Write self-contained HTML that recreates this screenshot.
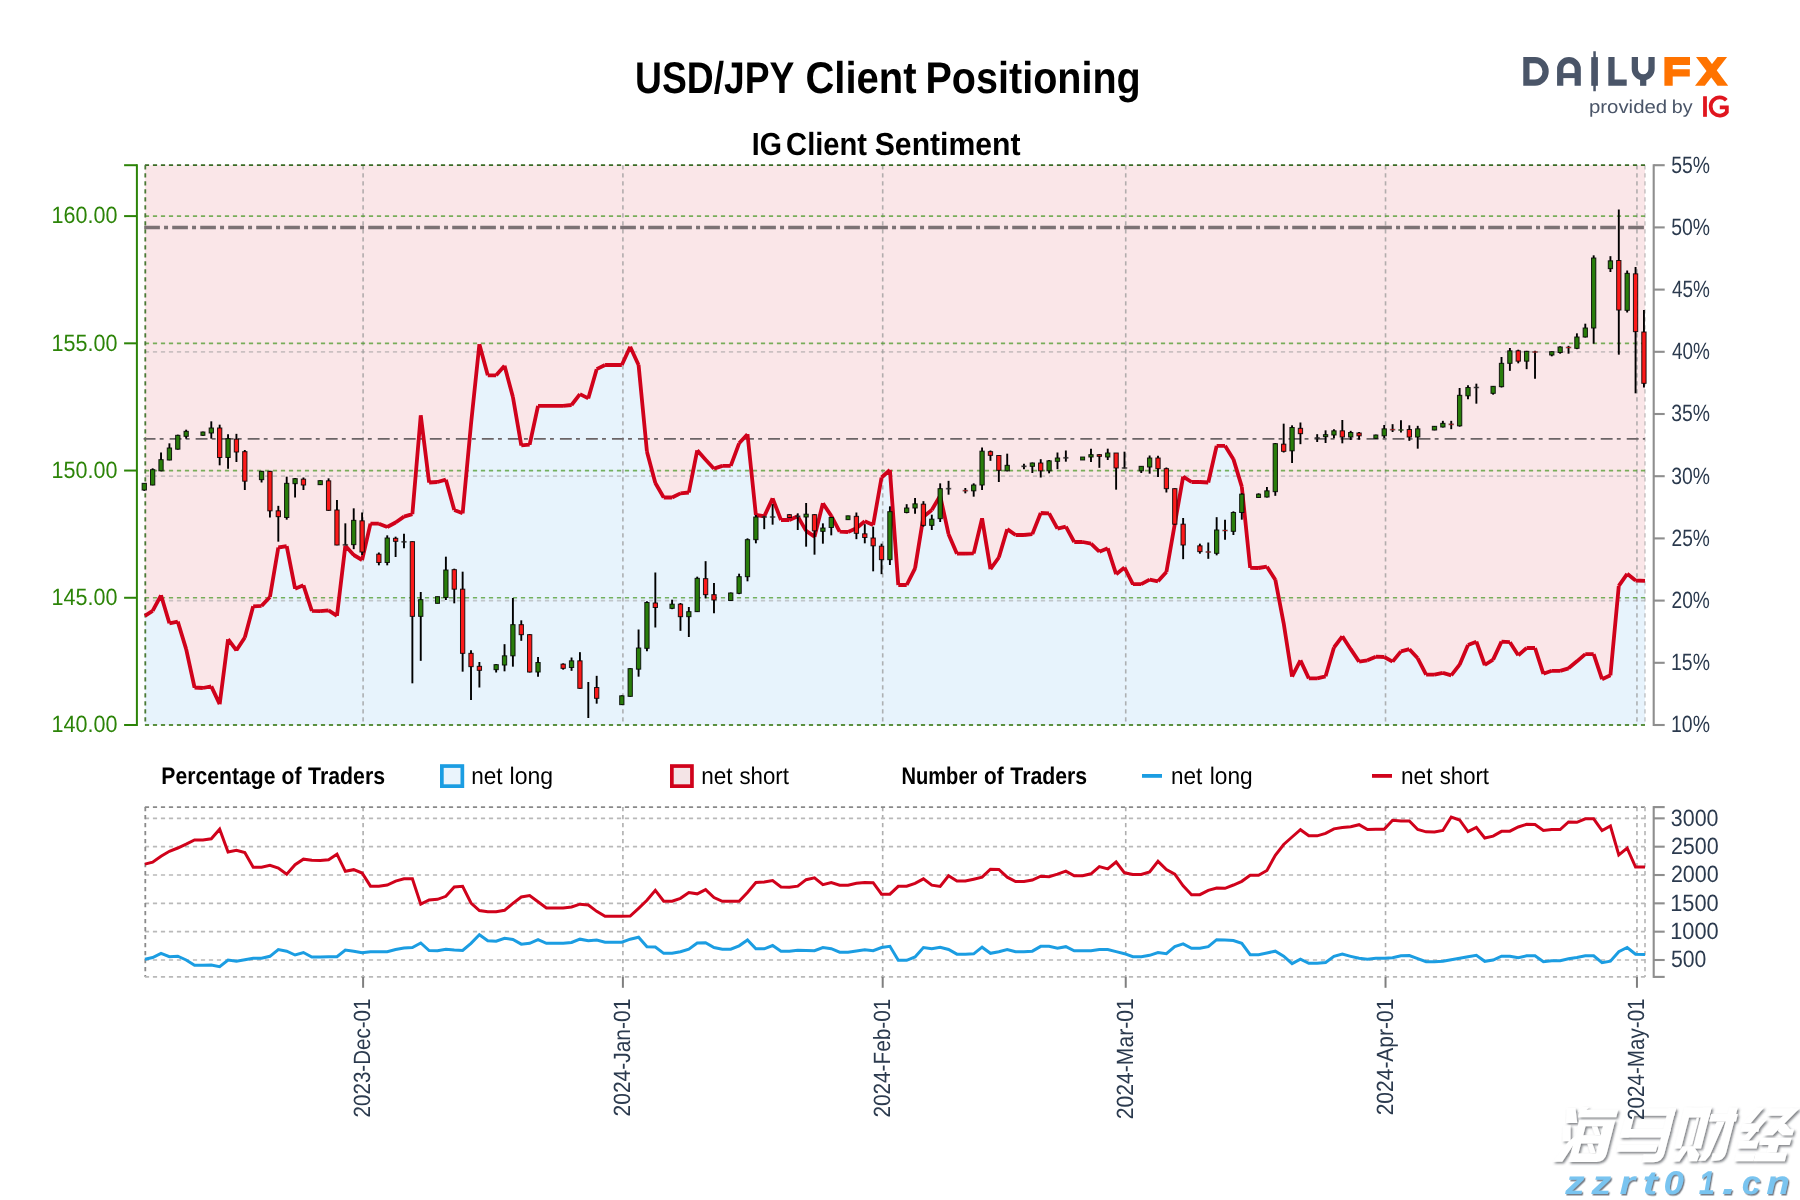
<!DOCTYPE html>
<html><head><meta charset="utf-8"><title>USD/JPY Client Positioning</title>
<style>html,body{margin:0;padding:0;background:#fff;}body{width:1800px;height:1200px;overflow:hidden;}svg{display:block;opacity:0.9999;}text{text-rendering:geometricPrecision;font-family:"Liberation Sans",sans-serif;}</style></head><body>
<svg width="1800" height="1200" viewBox="0 0 1800 1200">
<rect width="1800" height="1200" fill="#fff"/>
<polygon fill="#fae6e8" points="144.9,615.83 152.65,610.83 161.03,595.33 169.41,623.33 177.78,621.67 186.16,649.17 194.54,687.5 202.92,688 211.3,686.33 219.67,704.17 228.05,639.17 236.43,650.33 244.81,637.5 253.19,606.33 261.56,605.83 269.94,597 278.32,547.5 286.7,546.17 295.08,588.67 303.45,585.33 311.83,610.83 320.21,611.17 328.59,610.33 336.97,615.83 345.34,545.83 353.72,555 362.1,560 370.48,523.67 378.86,523.67 387.23,527 395.61,522.5 403.99,516.67 412.37,514.17 420.75,415.33 429.12,482.5 437.5,482 445.88,479.67 454.26,510 462.64,513.33 471.01,424.17 479.39,344.17 487.77,375.33 496.15,375.33 504.53,365.83 512.9,397 521.28,445.33 529.66,444.67 538.04,405.83 546.42,405.83 554.79,405.83 563.17,405.83 571.55,405 579.93,394.17 588.31,398.33 596.68,369.17 605.06,365 613.44,365 621.82,365 630.2,346.67 638.57,365 646.95,451.67 655.33,483 663.71,497.5 672.09,497.5 680.46,493.33 688.84,492.5 697.22,450.33 705.6,459.67 713.98,468.67 722.35,465.83 730.73,465.83 739.11,443.33 747.49,434.17 755.87,515 764.24,516.33 772.62,498.33 781,520 789.38,520 797.76,516.33 806.13,530.83 814.51,536.67 822.89,503.33 831.27,515.83 839.65,531.67 848.02,532 856.4,528.33 864.78,521.33 873.16,525 881.54,477.5 889.91,470 898.29,585 906.67,585 915.05,568.33 923.43,516.67 931.8,510 940.18,495.83 948.56,534.17 956.94,553.67 965.32,553.67 973.69,553.33 982.07,518.33 990.45,569.17 998.83,557.5 1007.21,529.17 1015.58,535 1023.96,535 1032.34,534.17 1040.72,513 1049.1,513.33 1057.47,528.67 1065.85,526.67 1074.23,542 1082.61,542 1090.99,543.67 1099.36,551.67 1107.74,548.33 1116.12,574.17 1124.5,567.5 1132.88,584.17 1141.25,584.17 1149.63,579.67 1158.01,581.33 1166.39,572 1174.77,524.17 1183.14,476.67 1191.52,482 1199.9,482 1208.28,482.5 1216.66,445.83 1225.03,445.83 1233.41,459.17 1241.79,486.67 1250.17,567.83 1258.55,568 1266.92,566.67 1275.3,579.67 1283.68,623.33 1292.06,676.67 1300.44,660.33 1308.81,678.33 1317.19,678.33 1325.57,676.33 1333.95,647.5 1342.33,636.33 1350.7,649.17 1359.08,661.67 1367.46,660.33 1375.84,656.67 1384.22,657 1392.59,661.67 1400.97,651.33 1409.35,649.17 1417.73,658.33 1426.11,674.67 1434.48,674.67 1442.86,672.83 1451.24,675.33 1459.62,664.67 1468,645 1476.37,641.67 1484.75,665 1493.13,659.67 1501.51,641.67 1509.89,642.17 1518.26,655.33 1526.64,648 1535.02,648 1543.4,673.83 1551.78,670.83 1560.15,670.83 1568.53,668.33 1576.91,661.33 1585.29,654.17 1593.67,654.17 1602.04,679.17 1610.42,675.33 1618.8,585.83 1627.18,573.83 1635.56,580.5 1645,580.83 1645,165.2 144.9,165.2"/>
<polygon fill="#e7f3fc" points="144.9,615.83 152.65,610.83 161.03,595.33 169.41,623.33 177.78,621.67 186.16,649.17 194.54,687.5 202.92,688 211.3,686.33 219.67,704.17 228.05,639.17 236.43,650.33 244.81,637.5 253.19,606.33 261.56,605.83 269.94,597 278.32,547.5 286.7,546.17 295.08,588.67 303.45,585.33 311.83,610.83 320.21,611.17 328.59,610.33 336.97,615.83 345.34,545.83 353.72,555 362.1,560 370.48,523.67 378.86,523.67 387.23,527 395.61,522.5 403.99,516.67 412.37,514.17 420.75,415.33 429.12,482.5 437.5,482 445.88,479.67 454.26,510 462.64,513.33 471.01,424.17 479.39,344.17 487.77,375.33 496.15,375.33 504.53,365.83 512.9,397 521.28,445.33 529.66,444.67 538.04,405.83 546.42,405.83 554.79,405.83 563.17,405.83 571.55,405 579.93,394.17 588.31,398.33 596.68,369.17 605.06,365 613.44,365 621.82,365 630.2,346.67 638.57,365 646.95,451.67 655.33,483 663.71,497.5 672.09,497.5 680.46,493.33 688.84,492.5 697.22,450.33 705.6,459.67 713.98,468.67 722.35,465.83 730.73,465.83 739.11,443.33 747.49,434.17 755.87,515 764.24,516.33 772.62,498.33 781,520 789.38,520 797.76,516.33 806.13,530.83 814.51,536.67 822.89,503.33 831.27,515.83 839.65,531.67 848.02,532 856.4,528.33 864.78,521.33 873.16,525 881.54,477.5 889.91,470 898.29,585 906.67,585 915.05,568.33 923.43,516.67 931.8,510 940.18,495.83 948.56,534.17 956.94,553.67 965.32,553.67 973.69,553.33 982.07,518.33 990.45,569.17 998.83,557.5 1007.21,529.17 1015.58,535 1023.96,535 1032.34,534.17 1040.72,513 1049.1,513.33 1057.47,528.67 1065.85,526.67 1074.23,542 1082.61,542 1090.99,543.67 1099.36,551.67 1107.74,548.33 1116.12,574.17 1124.5,567.5 1132.88,584.17 1141.25,584.17 1149.63,579.67 1158.01,581.33 1166.39,572 1174.77,524.17 1183.14,476.67 1191.52,482 1199.9,482 1208.28,482.5 1216.66,445.83 1225.03,445.83 1233.41,459.17 1241.79,486.67 1250.17,567.83 1258.55,568 1266.92,566.67 1275.3,579.67 1283.68,623.33 1292.06,676.67 1300.44,660.33 1308.81,678.33 1317.19,678.33 1325.57,676.33 1333.95,647.5 1342.33,636.33 1350.7,649.17 1359.08,661.67 1367.46,660.33 1375.84,656.67 1384.22,657 1392.59,661.67 1400.97,651.33 1409.35,649.17 1417.73,658.33 1426.11,674.67 1434.48,674.67 1442.86,672.83 1451.24,675.33 1459.62,664.67 1468,645 1476.37,641.67 1484.75,665 1493.13,659.67 1501.51,641.67 1509.89,642.17 1518.26,655.33 1526.64,648 1535.02,648 1543.4,673.83 1551.78,670.83 1560.15,670.83 1568.53,668.33 1576.91,661.33 1585.29,654.17 1593.67,654.17 1602.04,679.17 1610.42,675.33 1618.8,585.83 1627.18,573.83 1635.56,580.5 1645,580.83 1645,725 144.9,725"/>
<line x1="363.1" y1="165.2" x2="363.1" y2="725" stroke="#9a9a9a" stroke-opacity="0.75" stroke-width="1.6" stroke-dasharray="4.2 3.8"/>
<line x1="622.9" y1="165.2" x2="622.9" y2="725" stroke="#9a9a9a" stroke-opacity="0.75" stroke-width="1.6" stroke-dasharray="4.2 3.8"/>
<line x1="882.7" y1="165.2" x2="882.7" y2="725" stroke="#9a9a9a" stroke-opacity="0.75" stroke-width="1.6" stroke-dasharray="4.2 3.8"/>
<line x1="1125.73" y1="165.2" x2="1125.73" y2="725" stroke="#9a9a9a" stroke-opacity="0.75" stroke-width="1.6" stroke-dasharray="4.2 3.8"/>
<line x1="1385.53" y1="165.2" x2="1385.53" y2="725" stroke="#9a9a9a" stroke-opacity="0.75" stroke-width="1.6" stroke-dasharray="4.2 3.8"/>
<line x1="1636.95" y1="165.2" x2="1636.95" y2="725" stroke="#9a9a9a" stroke-opacity="0.75" stroke-width="1.6" stroke-dasharray="4.2 3.8"/>
<line x1="1645" y1="165.2" x2="1645" y2="725" stroke="#9a9a9a" stroke-opacity="0.5" stroke-width="1.6" stroke-dasharray="4.2 3.8"/>
<line x1="144.9" y1="600.6" x2="1645" y2="600.6" stroke="#9a9a9a" stroke-opacity="0.5" stroke-width="1.7" stroke-dasharray="4.2 3.8"/>
<line x1="144.9" y1="476.2" x2="1645" y2="476.2" stroke="#9a9a9a" stroke-opacity="0.5" stroke-width="1.7" stroke-dasharray="4.2 3.8"/>
<line x1="144.9" y1="351.8" x2="1645" y2="351.8" stroke="#9a9a9a" stroke-opacity="0.5" stroke-width="1.7" stroke-dasharray="4.2 3.8"/>
<line x1="144.9" y1="597.77" x2="1645" y2="597.77" stroke="#4c9a2a" stroke-opacity="0.75" stroke-width="1.7" stroke-dasharray="4.2 3.8"/>
<line x1="144.9" y1="470.55" x2="1645" y2="470.55" stroke="#4c9a2a" stroke-opacity="0.75" stroke-width="1.7" stroke-dasharray="4.2 3.8"/>
<line x1="144.9" y1="343.32" x2="1645" y2="343.32" stroke="#4c9a2a" stroke-opacity="0.75" stroke-width="1.7" stroke-dasharray="4.2 3.8"/>
<line x1="144.9" y1="216.1" x2="1645" y2="216.1" stroke="#4c9a2a" stroke-opacity="0.75" stroke-width="1.7" stroke-dasharray="4.2 3.8"/>
<line x1="144.9" y1="165.2" x2="1645" y2="165.2" stroke="#3a6b25" stroke-width="1.8" stroke-dasharray="4.2 3.8"/>
<line x1="145.3" y1="165.2" x2="145.3" y2="725" stroke="#4a7a35" stroke-width="1.8" stroke-dasharray="4.2 3.8"/>
<line x1="144.9" y1="725" x2="1645" y2="725" stroke="#5a9040" stroke-width="1.8" stroke-dasharray="4.2 3.8"/>
<line x1="144.2" y1="227.4" x2="1645" y2="227.4" stroke="#7b7274" stroke-width="3.5" stroke-dasharray="15.7 4.15 4 4.15"/>
<line x1="143.6" y1="438.9" x2="1645" y2="438.9" stroke="#6b6466" stroke-width="1.7" stroke-dasharray="11.9 4.2 3.9 6.02"/>
<path fill="none" stroke="#d0021b" stroke-width="3.8" stroke-linecap="butt" d="M144.9,615.83 L152.65,610.83 M152.65,610.83 L161.03,595.33 M161.03,595.33 L169.41,623.33 M169.41,623.33 L177.78,621.67 M177.78,621.67 L186.16,649.17 M186.16,649.17 L194.54,687.5 M194.54,687.5 L202.92,688 M202.92,688 L211.3,686.33 M211.3,686.33 L219.67,704.17 M219.67,704.17 L228.05,639.17 M228.05,639.17 L236.43,650.33 M236.43,650.33 L244.81,637.5 M244.81,637.5 L253.19,606.33 M253.19,606.33 L261.56,605.83 M261.56,605.83 L269.94,597 M269.94,597 L278.32,547.5 M278.32,547.5 L286.7,546.17 M286.7,546.17 L295.08,588.67 M295.08,588.67 L303.45,585.33 M303.45,585.33 L311.83,610.83 M311.83,610.83 L320.21,611.17 M320.21,611.17 L328.59,610.33 M328.59,610.33 L336.97,615.83 M336.97,615.83 L345.34,545.83 M345.34,545.83 L353.72,555 M353.72,555 L362.1,560 M362.1,560 L370.48,523.67 M370.48,523.67 L378.86,523.67 M378.86,523.67 L387.23,527 M387.23,527 L395.61,522.5 M395.61,522.5 L403.99,516.67 M403.99,516.67 L412.37,514.17 M412.37,514.17 L420.75,415.33 M420.75,415.33 L429.12,482.5 M429.12,482.5 L437.5,482 M437.5,482 L445.88,479.67 M445.88,479.67 L454.26,510 M454.26,510 L462.64,513.33 M462.64,513.33 L471.01,424.17 M471.01,424.17 L479.39,344.17 M479.39,344.17 L487.77,375.33 M487.77,375.33 L496.15,375.33 M496.15,375.33 L504.53,365.83 M504.53,365.83 L512.9,397 M512.9,397 L521.28,445.33 M521.28,445.33 L529.66,444.67 M529.66,444.67 L538.04,405.83 M538.04,405.83 L546.42,405.83 M546.42,405.83 L554.79,405.83 M554.79,405.83 L563.17,405.83 M563.17,405.83 L571.55,405 M571.55,405 L579.93,394.17 M579.93,394.17 L588.31,398.33 M588.31,398.33 L596.68,369.17 M596.68,369.17 L605.06,365 M605.06,365 L613.44,365 M613.44,365 L621.82,365 M621.82,365 L630.2,346.67 M630.2,346.67 L638.57,365 M638.57,365 L646.95,451.67 M646.95,451.67 L655.33,483 M655.33,483 L663.71,497.5 M663.71,497.5 L672.09,497.5 M672.09,497.5 L680.46,493.33 M680.46,493.33 L688.84,492.5 M688.84,492.5 L697.22,450.33 M697.22,450.33 L705.6,459.67 M705.6,459.67 L713.98,468.67 M713.98,468.67 L722.35,465.83 M722.35,465.83 L730.73,465.83 M730.73,465.83 L739.11,443.33 M739.11,443.33 L747.49,434.17 M747.49,434.17 L755.87,515 M755.87,515 L764.24,516.33 M764.24,516.33 L772.62,498.33 M772.62,498.33 L781,520 M781,520 L789.38,520 M789.38,520 L797.76,516.33 M797.76,516.33 L806.13,530.83 M806.13,530.83 L814.51,536.67 M814.51,536.67 L822.89,503.33 M822.89,503.33 L831.27,515.83 M831.27,515.83 L839.65,531.67 M839.65,531.67 L848.02,532 M848.02,532 L856.4,528.33 M856.4,528.33 L864.78,521.33 M864.78,521.33 L873.16,525 M873.16,525 L881.54,477.5 M881.54,477.5 L889.91,470 M889.91,470 L898.29,585 M898.29,585 L906.67,585 M906.67,585 L915.05,568.33 M915.05,568.33 L923.43,516.67 M923.43,516.67 L931.8,510 M931.8,510 L940.18,495.83 M940.18,495.83 L948.56,534.17 M948.56,534.17 L956.94,553.67 M956.94,553.67 L965.32,553.67 M965.32,553.67 L973.69,553.33 M973.69,553.33 L982.07,518.33 M982.07,518.33 L990.45,569.17 M990.45,569.17 L998.83,557.5 M998.83,557.5 L1007.21,529.17 M1007.21,529.17 L1015.58,535 M1015.58,535 L1023.96,535 M1023.96,535 L1032.34,534.17 M1032.34,534.17 L1040.72,513 M1040.72,513 L1049.1,513.33 M1049.1,513.33 L1057.47,528.67 M1057.47,528.67 L1065.85,526.67 M1065.85,526.67 L1074.23,542 M1074.23,542 L1082.61,542 M1082.61,542 L1090.99,543.67 M1090.99,543.67 L1099.36,551.67 M1099.36,551.67 L1107.74,548.33 M1107.74,548.33 L1116.12,574.17 M1116.12,574.17 L1124.5,567.5 M1124.5,567.5 L1132.88,584.17 M1132.88,584.17 L1141.25,584.17 M1141.25,584.17 L1149.63,579.67 M1149.63,579.67 L1158.01,581.33 M1158.01,581.33 L1166.39,572 M1166.39,572 L1174.77,524.17 M1174.77,524.17 L1183.14,476.67 M1183.14,476.67 L1191.52,482 M1191.52,482 L1199.9,482 M1199.9,482 L1208.28,482.5 M1208.28,482.5 L1216.66,445.83 M1216.66,445.83 L1225.03,445.83 M1225.03,445.83 L1233.41,459.17 M1233.41,459.17 L1241.79,486.67 M1241.79,486.67 L1250.17,567.83 M1250.17,567.83 L1258.55,568 M1258.55,568 L1266.92,566.67 M1266.92,566.67 L1275.3,579.67 M1275.3,579.67 L1283.68,623.33 M1283.68,623.33 L1292.06,676.67 M1292.06,676.67 L1300.44,660.33 M1300.44,660.33 L1308.81,678.33 M1308.81,678.33 L1317.19,678.33 M1317.19,678.33 L1325.57,676.33 M1325.57,676.33 L1333.95,647.5 M1333.95,647.5 L1342.33,636.33 M1342.33,636.33 L1350.7,649.17 M1350.7,649.17 L1359.08,661.67 M1359.08,661.67 L1367.46,660.33 M1367.46,660.33 L1375.84,656.67 M1375.84,656.67 L1384.22,657 M1384.22,657 L1392.59,661.67 M1392.59,661.67 L1400.97,651.33 M1400.97,651.33 L1409.35,649.17 M1409.35,649.17 L1417.73,658.33 M1417.73,658.33 L1426.11,674.67 M1426.11,674.67 L1434.48,674.67 M1434.48,674.67 L1442.86,672.83 M1442.86,672.83 L1451.24,675.33 M1451.24,675.33 L1459.62,664.67 M1459.62,664.67 L1468,645 M1468,645 L1476.37,641.67 M1476.37,641.67 L1484.75,665 M1484.75,665 L1493.13,659.67 M1493.13,659.67 L1501.51,641.67 M1501.51,641.67 L1509.89,642.17 M1509.89,642.17 L1518.26,655.33 M1518.26,655.33 L1526.64,648 M1526.64,648 L1535.02,648 M1535.02,648 L1543.4,673.83 M1543.4,673.83 L1551.78,670.83 M1551.78,670.83 L1560.15,670.83 M1560.15,670.83 L1568.53,668.33 M1568.53,668.33 L1576.91,661.33 M1576.91,661.33 L1585.29,654.17 M1585.29,654.17 L1593.67,654.17 M1593.67,654.17 L1602.04,679.17 M1602.04,679.17 L1610.42,675.33 M1610.42,675.33 L1618.8,585.83 M1618.8,585.83 L1627.18,573.83 M1627.18,573.83 L1635.56,580.5 M1635.56,580.5 L1645,580.83"/>
<g stroke="#000">
<line x1="144.27" y1="483.33" x2="144.27" y2="490.83" stroke-width="1.9"/>
<rect x="142.12" y="483.33" width="4.3" height="6.67" fill="#297d0b" stroke-width="1" stroke-opacity="0.85"/>
<line x1="152.65" y1="468.33" x2="152.65" y2="485.33" stroke-width="1.9"/>
<rect x="150.5" y="469.67" width="4.3" height="15.33" fill="#297d0b" stroke-width="1" stroke-opacity="0.85"/>
<line x1="161.03" y1="452.5" x2="161.03" y2="471.33" stroke-width="1.9"/>
<rect x="158.88" y="459.67" width="4.3" height="11.17" fill="#297d0b" stroke-width="1" stroke-opacity="0.85"/>
<line x1="169.41" y1="443.33" x2="169.41" y2="460.33" stroke-width="1.9"/>
<rect x="167.26" y="448" width="4.3" height="12" fill="#297d0b" stroke-width="1" stroke-opacity="0.85"/>
<line x1="177.78" y1="434.67" x2="177.78" y2="449.67" stroke-width="1.9"/>
<rect x="175.63" y="435.33" width="4.3" height="13.83" fill="#297d0b" stroke-width="1" stroke-opacity="0.85"/>
<line x1="186.16" y1="429.67" x2="186.16" y2="438.67" stroke-width="1.9"/>
<rect x="184.01" y="431.33" width="4.3" height="5" fill="#297d0b" stroke-width="1" stroke-opacity="0.85"/>
<line x1="202.92" y1="431.67" x2="202.92" y2="435.67" stroke-width="1.9"/>
<rect x="200.92" y="432" width="4" height="3.33" fill="#297d0b" stroke-width="1" stroke-opacity="0.85"/>
<line x1="211.3" y1="421.33" x2="211.3" y2="438.67" stroke-width="1.9"/>
<rect x="209.15" y="428" width="4.3" height="5" fill="#297d0b" stroke-width="1" stroke-opacity="0.85"/>
<line x1="219.67" y1="424.67" x2="219.67" y2="465.33" stroke-width="1.9"/>
<rect x="217.52" y="428" width="4.3" height="29.5" fill="#fb1a1a" stroke-width="1" stroke-opacity="0.85"/>
<line x1="228.05" y1="434.17" x2="228.05" y2="468.67" stroke-width="1.9"/>
<rect x="225.9" y="438.67" width="4.3" height="18.83" fill="#297d0b" stroke-width="1" stroke-opacity="0.85"/>
<line x1="236.43" y1="433.83" x2="236.43" y2="462" stroke-width="1.9"/>
<rect x="234.28" y="439.17" width="4.3" height="12.83" fill="#fb1a1a" stroke-width="1" stroke-opacity="0.85"/>
<line x1="244.81" y1="450" x2="244.81" y2="490" stroke-width="1.9"/>
<rect x="242.66" y="451.67" width="4.3" height="29.5" fill="#fb1a1a" stroke-width="1" stroke-opacity="0.85"/>
<line x1="261.56" y1="470.83" x2="261.56" y2="482.5" stroke-width="1.9"/>
<rect x="259.41" y="471.33" width="4.3" height="8.33" fill="#297d0b" stroke-width="1" stroke-opacity="0.85"/>
<line x1="269.94" y1="470.83" x2="269.94" y2="517.5" stroke-width="1.9"/>
<rect x="267.79" y="471.33" width="4.3" height="39.5" fill="#fb1a1a" stroke-width="1" stroke-opacity="0.85"/>
<line x1="278.32" y1="505.83" x2="278.32" y2="541.67" stroke-width="1.9"/>
<rect x="276.17" y="510.83" width="4.3" height="5.83" fill="#fb1a1a" stroke-width="1" stroke-opacity="0.85"/>
<line x1="286.7" y1="476.67" x2="286.7" y2="519.67" stroke-width="1.9"/>
<rect x="284.55" y="483.33" width="4.3" height="34.17" fill="#297d0b" stroke-width="1" stroke-opacity="0.85"/>
<line x1="295.08" y1="478" x2="295.08" y2="497.5" stroke-width="1.9"/>
<rect x="292.93" y="478.67" width="4.3" height="5" fill="#297d0b" stroke-width="1" stroke-opacity="0.85"/>
<line x1="303.45" y1="477.5" x2="303.45" y2="490" stroke-width="1.9"/>
<rect x="301.3" y="479.17" width="4.3" height="5.83" fill="#fb1a1a" stroke-width="1" stroke-opacity="0.85"/>
<line x1="320.21" y1="480.33" x2="320.21" y2="485" stroke-width="1.9"/>
<rect x="318.06" y="480.67" width="4.3" height="4" fill="#297d0b" stroke-width="1" stroke-opacity="0.85"/>
<line x1="328.59" y1="478.33" x2="328.59" y2="510.83" stroke-width="1.9"/>
<rect x="326.44" y="480.83" width="4.3" height="29.5" fill="#fb1a1a" stroke-width="1" stroke-opacity="0.85"/>
<line x1="336.97" y1="500" x2="336.97" y2="545.33" stroke-width="1.9"/>
<rect x="334.82" y="510" width="4.3" height="35" fill="#fb1a1a" stroke-width="1" stroke-opacity="0.85"/>
<line x1="345.34" y1="523.33" x2="345.34" y2="545.33" stroke-width="1.9"/>
<line x1="342.54" y1="544.83" x2="348.14" y2="544.83" stroke="#333" stroke-opacity="0.55" stroke-width="1.8"/>
<line x1="343.14" y1="544.83" x2="347.54" y2="544.83" stroke="#222" stroke-width="0.9"/>
<line x1="353.72" y1="508.33" x2="353.72" y2="549.17" stroke-width="1.9"/>
<rect x="351.57" y="520.33" width="4.3" height="24.33" fill="#297d0b" stroke-width="1" stroke-opacity="0.85"/>
<line x1="362.1" y1="512.5" x2="362.1" y2="555" stroke-width="1.9"/>
<rect x="359.95" y="520.83" width="4.3" height="31.17" fill="#fb1a1a" stroke-width="1" stroke-opacity="0.85"/>
<line x1="378.86" y1="552.5" x2="378.86" y2="565.33" stroke-width="1.9"/>
<rect x="376.71" y="554.17" width="4.3" height="8.33" fill="#fb1a1a" stroke-width="1" stroke-opacity="0.85"/>
<line x1="387.23" y1="535.33" x2="387.23" y2="565.33" stroke-width="1.9"/>
<rect x="385.08" y="538" width="4.3" height="24.5" fill="#297d0b" stroke-width="1" stroke-opacity="0.85"/>
<line x1="395.61" y1="536.67" x2="395.61" y2="557" stroke-width="1.9"/>
<rect x="393.46" y="538.33" width="4.3" height="3" fill="#fb1a1a" stroke-width="1" stroke-opacity="0.85"/>
<line x1="403.99" y1="533.67" x2="403.99" y2="548.33" stroke-width="1.9"/>
<line x1="401.19" y1="541.83" x2="406.79" y2="541.83" stroke="#333" stroke-opacity="0.55" stroke-width="1.8"/>
<line x1="401.79" y1="541.83" x2="406.19" y2="541.83" stroke="#222" stroke-width="0.9"/>
<line x1="412.37" y1="541.33" x2="412.37" y2="683.33" stroke-width="1.9"/>
<rect x="410.22" y="541.67" width="4.3" height="74.67" fill="#fb1a1a" stroke-width="1" stroke-opacity="0.85"/>
<line x1="420.75" y1="592" x2="420.75" y2="660.83" stroke-width="1.9"/>
<rect x="418.6" y="599.67" width="4.3" height="16.67" fill="#297d0b" stroke-width="1" stroke-opacity="0.85"/>
<line x1="437.5" y1="596.67" x2="437.5" y2="603.33" stroke-width="1.9"/>
<rect x="435.5" y="596.67" width="4" height="6.67" fill="#297d0b" stroke-width="1" stroke-opacity="0.85"/>
<line x1="445.88" y1="556.67" x2="445.88" y2="600" stroke-width="1.9"/>
<rect x="443.73" y="570" width="4.3" height="27.5" fill="#297d0b" stroke-width="1" stroke-opacity="0.85"/>
<line x1="454.26" y1="568.67" x2="454.26" y2="603.33" stroke-width="1.9"/>
<rect x="452.11" y="569.67" width="4.3" height="19.5" fill="#fb1a1a" stroke-width="1" stroke-opacity="0.85"/>
<line x1="462.64" y1="571.67" x2="462.64" y2="671.67" stroke-width="1.9"/>
<rect x="460.49" y="589.17" width="4.3" height="64.17" fill="#fb1a1a" stroke-width="1" stroke-opacity="0.85"/>
<line x1="471.01" y1="650.33" x2="471.01" y2="700" stroke-width="1.9"/>
<rect x="468.86" y="653.33" width="4.3" height="13.33" fill="#fb1a1a" stroke-width="1" stroke-opacity="0.85"/>
<line x1="479.39" y1="662" x2="479.39" y2="687.5" stroke-width="1.9"/>
<rect x="477.24" y="666.33" width="4.3" height="4" fill="#fb1a1a" stroke-width="1" stroke-opacity="0.85"/>
<line x1="496.15" y1="664.17" x2="496.15" y2="672.5" stroke-width="1.9"/>
<rect x="494" y="664.67" width="4.3" height="5" fill="#297d0b" stroke-width="1" stroke-opacity="0.85"/>
<line x1="504.53" y1="644.17" x2="504.53" y2="671.33" stroke-width="1.9"/>
<rect x="502.38" y="655.83" width="4.3" height="9.17" fill="#297d0b" stroke-width="1" stroke-opacity="0.85"/>
<line x1="512.9" y1="598" x2="512.9" y2="666.67" stroke-width="1.9"/>
<rect x="510.75" y="624.67" width="4.3" height="31.17" fill="#297d0b" stroke-width="1" stroke-opacity="0.85"/>
<line x1="521.28" y1="620.33" x2="521.28" y2="640.83" stroke-width="1.9"/>
<rect x="519.13" y="624.67" width="4.3" height="10" fill="#fb1a1a" stroke-width="1" stroke-opacity="0.85"/>
<line x1="529.66" y1="634.17" x2="529.66" y2="672.5" stroke-width="1.9"/>
<rect x="527.51" y="634.67" width="4.3" height="37.33" fill="#fb1a1a" stroke-width="1" stroke-opacity="0.85"/>
<line x1="538.04" y1="657" x2="538.04" y2="676.67" stroke-width="1.9"/>
<rect x="535.89" y="662.5" width="4.3" height="9.5" fill="#297d0b" stroke-width="1" stroke-opacity="0.85"/>
<line x1="563.17" y1="663.33" x2="563.17" y2="669.67" stroke-width="1.9"/>
<rect x="561.02" y="664.17" width="4.3" height="4.17" fill="#fb1a1a" stroke-width="1" stroke-opacity="0.85"/>
<line x1="571.55" y1="657.5" x2="571.55" y2="670.83" stroke-width="1.9"/>
<rect x="569.4" y="660.83" width="4.3" height="6.67" fill="#297d0b" stroke-width="1" stroke-opacity="0.85"/>
<line x1="579.93" y1="652.17" x2="579.93" y2="688.67" stroke-width="1.9"/>
<rect x="577.78" y="660.83" width="4.3" height="27.5" fill="#fb1a1a" stroke-width="1" stroke-opacity="0.85"/>
<line x1="588.31" y1="682" x2="588.31" y2="718" stroke-width="1.9"/>
<line x1="596.68" y1="675.83" x2="596.68" y2="703.67" stroke-width="1.9"/>
<rect x="594.53" y="687.5" width="4.3" height="10.83" fill="#fb1a1a" stroke-width="1" stroke-opacity="0.85"/>
<line x1="621.82" y1="695.33" x2="621.82" y2="705" stroke-width="1.9"/>
<rect x="619.67" y="695.83" width="4.3" height="8.83" fill="#297d0b" stroke-width="1" stroke-opacity="0.85"/>
<line x1="630.2" y1="668.33" x2="630.2" y2="696.67" stroke-width="1.9"/>
<rect x="628.05" y="668.67" width="4.3" height="27.67" fill="#297d0b" stroke-width="1" stroke-opacity="0.85"/>
<line x1="638.57" y1="629.5" x2="638.57" y2="676.67" stroke-width="1.9"/>
<rect x="636.42" y="648" width="4.3" height="21.17" fill="#297d0b" stroke-width="1" stroke-opacity="0.85"/>
<line x1="646.95" y1="601.33" x2="646.95" y2="651.33" stroke-width="1.9"/>
<rect x="644.8" y="602.5" width="4.3" height="45.83" fill="#297d0b" stroke-width="1" stroke-opacity="0.85"/>
<line x1="655.33" y1="572.5" x2="655.33" y2="627.5" stroke-width="1.9"/>
<rect x="653.18" y="603" width="4.3" height="4.5" fill="#fb1a1a" stroke-width="1" stroke-opacity="0.85"/>
<line x1="672.09" y1="599.67" x2="672.09" y2="609.17" stroke-width="1.9"/>
<rect x="669.94" y="604.17" width="4.3" height="4.17" fill="#297d0b" stroke-width="1" stroke-opacity="0.85"/>
<line x1="680.46" y1="603" x2="680.46" y2="630.83" stroke-width="1.9"/>
<rect x="678.31" y="604.17" width="4.3" height="12.5" fill="#fb1a1a" stroke-width="1" stroke-opacity="0.85"/>
<line x1="688.84" y1="607" x2="688.84" y2="637" stroke-width="1.9"/>
<rect x="686.69" y="611.67" width="4.3" height="5" fill="#297d0b" stroke-width="1" stroke-opacity="0.85"/>
<line x1="697.22" y1="576.67" x2="697.22" y2="612" stroke-width="1.9"/>
<rect x="695.07" y="578.33" width="4.3" height="33.33" fill="#297d0b" stroke-width="1" stroke-opacity="0.85"/>
<line x1="705.6" y1="561.17" x2="705.6" y2="598.33" stroke-width="1.9"/>
<rect x="703.45" y="578.67" width="4.3" height="16" fill="#fb1a1a" stroke-width="1" stroke-opacity="0.85"/>
<line x1="713.98" y1="583" x2="713.98" y2="613.33" stroke-width="1.9"/>
<rect x="711.83" y="594.67" width="4.3" height="5.33" fill="#fb1a1a" stroke-width="1" stroke-opacity="0.85"/>
<line x1="730.73" y1="592.5" x2="730.73" y2="600.83" stroke-width="1.9"/>
<rect x="728.58" y="593" width="4.3" height="7.5" fill="#297d0b" stroke-width="1" stroke-opacity="0.85"/>
<line x1="739.11" y1="573.67" x2="739.11" y2="594.17" stroke-width="1.9"/>
<rect x="736.96" y="576.67" width="4.3" height="16.67" fill="#297d0b" stroke-width="1" stroke-opacity="0.85"/>
<line x1="747.49" y1="538.33" x2="747.49" y2="581.33" stroke-width="1.9"/>
<rect x="745.34" y="539.67" width="4.3" height="37" fill="#297d0b" stroke-width="1" stroke-opacity="0.85"/>
<line x1="755.87" y1="515" x2="755.87" y2="543.33" stroke-width="1.9"/>
<rect x="753.72" y="517" width="4.3" height="22.67" fill="#297d0b" stroke-width="1" stroke-opacity="0.85"/>
<line x1="764.24" y1="515.83" x2="764.24" y2="529.17" stroke-width="1.9"/>
<line x1="761.44" y1="517" x2="767.04" y2="517" stroke="#333" stroke-opacity="0.55" stroke-width="1.8"/>
<line x1="762.04" y1="517" x2="766.44" y2="517" stroke="#222" stroke-width="0.9"/>
<line x1="772.62" y1="504.17" x2="772.62" y2="524.67" stroke-width="1.9"/>
<line x1="769.82" y1="517" x2="775.42" y2="517" stroke="#333" stroke-opacity="0.55" stroke-width="1.8"/>
<line x1="770.42" y1="517" x2="774.82" y2="517" stroke="#222" stroke-width="0.9"/>
<line x1="789.38" y1="514.17" x2="789.38" y2="518" stroke-width="1.9"/>
<rect x="787.38" y="514.67" width="4" height="2.83" fill="#fb1a1a" stroke-width="1" stroke-opacity="0.85"/>
<line x1="797.76" y1="513.33" x2="797.76" y2="530" stroke-width="1.9"/>
<line x1="794.96" y1="516.42" x2="800.56" y2="516.42" stroke="#333" stroke-opacity="0.55" stroke-width="1.8"/>
<line x1="795.56" y1="516.42" x2="799.96" y2="516.42" stroke="#222" stroke-width="0.9"/>
<line x1="806.13" y1="503" x2="806.13" y2="546.67" stroke-width="1.9"/>
<rect x="803.98" y="514.17" width="4.3" height="2.83" fill="#297d0b" stroke-width="1" stroke-opacity="0.85"/>
<line x1="814.51" y1="514.17" x2="814.51" y2="554.67" stroke-width="1.9"/>
<rect x="812.36" y="514.67" width="4.3" height="16.17" fill="#fb1a1a" stroke-width="1" stroke-opacity="0.85"/>
<line x1="822.89" y1="523.33" x2="822.89" y2="543.67" stroke-width="1.9"/>
<rect x="820.74" y="528" width="4.3" height="3.33" fill="#297d0b" stroke-width="1" stroke-opacity="0.85"/>
<line x1="831.27" y1="517" x2="831.27" y2="535.33" stroke-width="1.9"/>
<rect x="829.12" y="517.5" width="4.3" height="10" fill="#297d0b" stroke-width="1" stroke-opacity="0.85"/>
<line x1="848.02" y1="515.83" x2="848.02" y2="519.67" stroke-width="1.9"/>
<rect x="846.02" y="515.83" width="4" height="3.83" fill="#297d0b" stroke-width="1" stroke-opacity="0.85"/>
<line x1="856.4" y1="512.5" x2="856.4" y2="539.17" stroke-width="1.9"/>
<rect x="854.25" y="516.33" width="4.3" height="17" fill="#fb1a1a" stroke-width="1" stroke-opacity="0.85"/>
<line x1="864.78" y1="524.17" x2="864.78" y2="543.33" stroke-width="1.9"/>
<rect x="862.63" y="533.83" width="4.3" height="3.67" fill="#fb1a1a" stroke-width="1" stroke-opacity="0.85"/>
<line x1="873.16" y1="526.67" x2="873.16" y2="571.33" stroke-width="1.9"/>
<rect x="871.01" y="538" width="4.3" height="7.83" fill="#fb1a1a" stroke-width="1" stroke-opacity="0.85"/>
<line x1="881.54" y1="543.67" x2="881.54" y2="574.17" stroke-width="1.9"/>
<rect x="879.39" y="546.17" width="4.3" height="13.5" fill="#fb1a1a" stroke-width="1" stroke-opacity="0.85"/>
<line x1="889.91" y1="506.33" x2="889.91" y2="565" stroke-width="1.9"/>
<rect x="887.76" y="511.67" width="4.3" height="48" fill="#297d0b" stroke-width="1" stroke-opacity="0.85"/>
<line x1="906.67" y1="504.17" x2="906.67" y2="513.33" stroke-width="1.9"/>
<rect x="904.52" y="508" width="4.3" height="4.5" fill="#297d0b" stroke-width="1" stroke-opacity="0.85"/>
<line x1="915.05" y1="498" x2="915.05" y2="513.67" stroke-width="1.9"/>
<rect x="912.9" y="503.83" width="4.3" height="4.17" fill="#297d0b" stroke-width="1" stroke-opacity="0.85"/>
<line x1="923.43" y1="501.17" x2="923.43" y2="526.67" stroke-width="1.9"/>
<rect x="921.28" y="504.17" width="4.3" height="21.17" fill="#fb1a1a" stroke-width="1" stroke-opacity="0.85"/>
<line x1="931.8" y1="514.67" x2="931.8" y2="530" stroke-width="1.9"/>
<rect x="929.65" y="519.17" width="4.3" height="6.17" fill="#297d0b" stroke-width="1" stroke-opacity="0.85"/>
<line x1="940.18" y1="483.33" x2="940.18" y2="522" stroke-width="1.9"/>
<rect x="938.03" y="488.67" width="4.3" height="30" fill="#297d0b" stroke-width="1" stroke-opacity="0.85"/>
<line x1="948.56" y1="480.83" x2="948.56" y2="494.67" stroke-width="1.9"/>
<line x1="945.76" y1="488.67" x2="951.36" y2="488.67" stroke="#333" stroke-opacity="0.55" stroke-width="1.8"/>
<line x1="946.36" y1="488.67" x2="950.76" y2="488.67" stroke="#222" stroke-width="0.9"/>
<line x1="965.32" y1="488" x2="965.32" y2="493.33" stroke-width="1.9"/>
<line x1="962.52" y1="490.67" x2="968.12" y2="490.67" stroke="#333" stroke-opacity="0.55" stroke-width="1.8"/>
<line x1="963.12" y1="490.67" x2="967.52" y2="490.67" stroke="#b01515" stroke-width="0.9"/>
<line x1="973.69" y1="483.33" x2="973.69" y2="496.67" stroke-width="1.9"/>
<rect x="971.54" y="485" width="4.3" height="5.83" fill="#297d0b" stroke-width="1" stroke-opacity="0.85"/>
<line x1="982.07" y1="447.5" x2="982.07" y2="490" stroke-width="1.9"/>
<rect x="979.92" y="451.17" width="4.3" height="33.83" fill="#297d0b" stroke-width="1" stroke-opacity="0.85"/>
<line x1="990.45" y1="450.5" x2="990.45" y2="460.83" stroke-width="1.9"/>
<rect x="988.3" y="451.67" width="4.3" height="3.67" fill="#fb1a1a" stroke-width="1" stroke-opacity="0.85"/>
<line x1="998.83" y1="455.5" x2="998.83" y2="482" stroke-width="1.9"/>
<rect x="996.68" y="455.5" width="4.3" height="14.83" fill="#fb1a1a" stroke-width="1" stroke-opacity="0.85"/>
<line x1="1007.21" y1="453.67" x2="1007.21" y2="471.33" stroke-width="1.9"/>
<rect x="1005.06" y="465.33" width="4.3" height="5.5" fill="#297d0b" stroke-width="1" stroke-opacity="0.85"/>
<line x1="1023.96" y1="463.67" x2="1023.96" y2="469.17" stroke-width="1.9"/>
<line x1="1021.16" y1="466.33" x2="1026.76" y2="466.33" stroke="#333" stroke-opacity="0.55" stroke-width="1.8"/>
<line x1="1021.76" y1="466.33" x2="1026.16" y2="466.33" stroke="#222" stroke-width="0.9"/>
<line x1="1032.34" y1="462.5" x2="1032.34" y2="473" stroke-width="1.9"/>
<rect x="1030.19" y="463" width="4.3" height="3.33" fill="#297d0b" stroke-width="1" stroke-opacity="0.85"/>
<line x1="1040.72" y1="459.17" x2="1040.72" y2="477.5" stroke-width="1.9"/>
<rect x="1038.57" y="463" width="4.3" height="7.83" fill="#fb1a1a" stroke-width="1" stroke-opacity="0.85"/>
<line x1="1049.1" y1="460" x2="1049.1" y2="473.33" stroke-width="1.9"/>
<rect x="1046.95" y="460.83" width="4.3" height="10" fill="#297d0b" stroke-width="1" stroke-opacity="0.85"/>
<line x1="1057.47" y1="452.5" x2="1057.47" y2="469.17" stroke-width="1.9"/>
<rect x="1055.32" y="458" width="4.3" height="3.33" fill="#297d0b" stroke-width="1" stroke-opacity="0.85"/>
<line x1="1065.85" y1="450.5" x2="1065.85" y2="461.67" stroke-width="1.9"/>
<line x1="1063.05" y1="457.83" x2="1068.65" y2="457.83" stroke="#333" stroke-opacity="0.55" stroke-width="1.8"/>
<line x1="1063.65" y1="457.83" x2="1068.05" y2="457.83" stroke="#222" stroke-width="0.9"/>
<line x1="1082.61" y1="457" x2="1082.61" y2="460" stroke-width="1.9"/>
<rect x="1080.61" y="457" width="4" height="3" fill="#297d0b" stroke-width="1" stroke-opacity="0.85"/>
<line x1="1090.99" y1="448.83" x2="1090.99" y2="462" stroke-width="1.9"/>
<rect x="1088.84" y="454.67" width="4.3" height="2.33" fill="#297d0b" stroke-width="1" stroke-opacity="0.85"/>
<line x1="1099.36" y1="454.17" x2="1099.36" y2="467.83" stroke-width="1.9"/>
<rect x="1097.21" y="454.67" width="4.3" height="1.67" fill="#fb1a1a" stroke-width="1" stroke-opacity="0.85"/>
<line x1="1107.74" y1="448.67" x2="1107.74" y2="460" stroke-width="1.9"/>
<rect x="1105.59" y="453" width="4.3" height="4" fill="#297d0b" stroke-width="1" stroke-opacity="0.85"/>
<line x1="1116.12" y1="453" x2="1116.12" y2="489.67" stroke-width="1.9"/>
<rect x="1113.97" y="453" width="4.3" height="15" fill="#fb1a1a" stroke-width="1" stroke-opacity="0.85"/>
<line x1="1124.5" y1="451.67" x2="1124.5" y2="468.33" stroke-width="1.9"/>
<line x1="1121.7" y1="468" x2="1127.3" y2="468" stroke="#333" stroke-opacity="0.55" stroke-width="1.8"/>
<line x1="1122.3" y1="468" x2="1126.7" y2="468" stroke="#222" stroke-width="0.9"/>
<line x1="1141.25" y1="466.33" x2="1141.25" y2="473" stroke-width="1.9"/>
<rect x="1139.1" y="466.33" width="4.3" height="4.5" fill="#297d0b" stroke-width="1" stroke-opacity="0.85"/>
<line x1="1149.63" y1="455.5" x2="1149.63" y2="473.67" stroke-width="1.9"/>
<rect x="1147.48" y="458" width="4.3" height="9" fill="#297d0b" stroke-width="1" stroke-opacity="0.85"/>
<line x1="1158.01" y1="455.83" x2="1158.01" y2="477" stroke-width="1.9"/>
<rect x="1155.86" y="458" width="4.3" height="10.67" fill="#fb1a1a" stroke-width="1" stroke-opacity="0.85"/>
<line x1="1166.39" y1="467.5" x2="1166.39" y2="492.5" stroke-width="1.9"/>
<rect x="1164.24" y="468.67" width="4.3" height="20" fill="#fb1a1a" stroke-width="1" stroke-opacity="0.85"/>
<line x1="1174.77" y1="488.33" x2="1174.77" y2="524.67" stroke-width="1.9"/>
<rect x="1172.62" y="488.67" width="4.3" height="35.5" fill="#fb1a1a" stroke-width="1" stroke-opacity="0.85"/>
<line x1="1183.14" y1="518" x2="1183.14" y2="559.17" stroke-width="1.9"/>
<rect x="1180.99" y="524.17" width="4.3" height="20.83" fill="#fb1a1a" stroke-width="1" stroke-opacity="0.85"/>
<line x1="1199.9" y1="543.67" x2="1199.9" y2="553.67" stroke-width="1.9"/>
<rect x="1197.75" y="545.83" width="4.3" height="5.83" fill="#fb1a1a" stroke-width="1" stroke-opacity="0.85"/>
<line x1="1208.28" y1="542.5" x2="1208.28" y2="558.83" stroke-width="1.9"/>
<line x1="1205.48" y1="552" x2="1211.08" y2="552" stroke="#333" stroke-opacity="0.55" stroke-width="1.8"/>
<line x1="1206.08" y1="552" x2="1210.48" y2="552" stroke="#b01515" stroke-width="0.9"/>
<line x1="1216.66" y1="517.17" x2="1216.66" y2="555.33" stroke-width="1.9"/>
<rect x="1214.51" y="530" width="4.3" height="23.33" fill="#297d0b" stroke-width="1" stroke-opacity="0.85"/>
<line x1="1225.03" y1="519.67" x2="1225.03" y2="539.67" stroke-width="1.9"/>
<line x1="1222.23" y1="530.5" x2="1227.83" y2="530.5" stroke="#333" stroke-opacity="0.55" stroke-width="1.8"/>
<line x1="1222.83" y1="530.5" x2="1227.23" y2="530.5" stroke="#b01515" stroke-width="0.9"/>
<line x1="1233.41" y1="511.33" x2="1233.41" y2="535" stroke-width="1.9"/>
<rect x="1231.26" y="512.5" width="4.3" height="18.83" fill="#297d0b" stroke-width="1" stroke-opacity="0.85"/>
<line x1="1241.79" y1="493.33" x2="1241.79" y2="519.67" stroke-width="1.9"/>
<rect x="1239.64" y="494.17" width="4.3" height="18.33" fill="#297d0b" stroke-width="1" stroke-opacity="0.85"/>
<line x1="1258.55" y1="493.33" x2="1258.55" y2="497.5" stroke-width="1.9"/>
<rect x="1256.55" y="494.17" width="4" height="3.33" fill="#297d0b" stroke-width="1" stroke-opacity="0.85"/>
<line x1="1266.92" y1="487" x2="1266.92" y2="497.5" stroke-width="1.9"/>
<rect x="1264.77" y="490.83" width="4.3" height="6.17" fill="#297d0b" stroke-width="1" stroke-opacity="0.85"/>
<line x1="1275.3" y1="443" x2="1275.3" y2="495.83" stroke-width="1.9"/>
<rect x="1273.15" y="443.67" width="4.3" height="48" fill="#297d0b" stroke-width="1" stroke-opacity="0.85"/>
<line x1="1283.68" y1="423.67" x2="1283.68" y2="452.5" stroke-width="1.9"/>
<rect x="1281.53" y="444.17" width="4.3" height="7.17" fill="#fb1a1a" stroke-width="1" stroke-opacity="0.85"/>
<line x1="1292.06" y1="425.33" x2="1292.06" y2="463" stroke-width="1.9"/>
<rect x="1289.91" y="427.5" width="4.3" height="23.33" fill="#297d0b" stroke-width="1" stroke-opacity="0.85"/>
<line x1="1300.44" y1="422.5" x2="1300.44" y2="444.17" stroke-width="1.9"/>
<rect x="1298.29" y="428.33" width="4.3" height="5.33" fill="#fb1a1a" stroke-width="1" stroke-opacity="0.85"/>
<line x1="1317.19" y1="434.17" x2="1317.19" y2="442" stroke-width="1.9"/>
<line x1="1314.39" y1="438" x2="1319.99" y2="438" stroke="#333" stroke-opacity="0.55" stroke-width="1.8"/>
<line x1="1314.99" y1="438" x2="1319.39" y2="438" stroke="#222" stroke-width="0.9"/>
<line x1="1325.57" y1="430.33" x2="1325.57" y2="443" stroke-width="1.9"/>
<rect x="1323.42" y="434.67" width="4.3" height="2" fill="#297d0b" stroke-width="1" stroke-opacity="0.85"/>
<line x1="1333.95" y1="429.17" x2="1333.95" y2="438.33" stroke-width="1.9"/>
<rect x="1331.8" y="430.83" width="4.3" height="4.17" fill="#297d0b" stroke-width="1" stroke-opacity="0.85"/>
<line x1="1342.33" y1="420" x2="1342.33" y2="443.33" stroke-width="1.9"/>
<rect x="1340.18" y="430.83" width="4.3" height="6.17" fill="#fb1a1a" stroke-width="1" stroke-opacity="0.85"/>
<line x1="1350.7" y1="430.83" x2="1350.7" y2="440" stroke-width="1.9"/>
<rect x="1348.55" y="432.5" width="4.3" height="4.5" fill="#297d0b" stroke-width="1" stroke-opacity="0.85"/>
<line x1="1359.08" y1="432" x2="1359.08" y2="439.67" stroke-width="1.9"/>
<rect x="1356.93" y="433" width="4.3" height="2.83" fill="#fb1a1a" stroke-width="1" stroke-opacity="0.85"/>
<line x1="1375.84" y1="434.67" x2="1375.84" y2="438.67" stroke-width="1.9"/>
<rect x="1373.84" y="435" width="4" height="3.33" fill="#297d0b" stroke-width="1" stroke-opacity="0.85"/>
<line x1="1384.22" y1="425" x2="1384.22" y2="438" stroke-width="1.9"/>
<rect x="1382.07" y="428.83" width="4.3" height="7" fill="#297d0b" stroke-width="1" stroke-opacity="0.85"/>
<line x1="1392.59" y1="424.17" x2="1392.59" y2="432" stroke-width="1.9"/>
<line x1="1389.79" y1="429.67" x2="1395.39" y2="429.67" stroke="#333" stroke-opacity="0.55" stroke-width="1.8"/>
<line x1="1390.39" y1="429.67" x2="1394.79" y2="429.67" stroke="#b01515" stroke-width="0.9"/>
<line x1="1400.97" y1="420.33" x2="1400.97" y2="432.5" stroke-width="1.9"/>
<line x1="1398.17" y1="430" x2="1403.77" y2="430" stroke="#333" stroke-opacity="0.55" stroke-width="1.8"/>
<line x1="1398.77" y1="430" x2="1403.17" y2="430" stroke="#1e5c08" stroke-width="0.9"/>
<line x1="1409.35" y1="425.33" x2="1409.35" y2="440.83" stroke-width="1.9"/>
<rect x="1407.2" y="429.5" width="4.3" height="7.5" fill="#fb1a1a" stroke-width="1" stroke-opacity="0.85"/>
<line x1="1417.73" y1="425.83" x2="1417.73" y2="448.67" stroke-width="1.9"/>
<rect x="1415.58" y="428.83" width="4.3" height="8.17" fill="#297d0b" stroke-width="1" stroke-opacity="0.85"/>
<line x1="1434.48" y1="426" x2="1434.48" y2="430.33" stroke-width="1.9"/>
<rect x="1432.33" y="426.33" width="4.3" height="3.67" fill="#297d0b" stroke-width="1" stroke-opacity="0.85"/>
<line x1="1442.86" y1="420.83" x2="1442.86" y2="427.5" stroke-width="1.9"/>
<rect x="1440.71" y="423.33" width="4.3" height="3.67" fill="#297d0b" stroke-width="1" stroke-opacity="0.85"/>
<line x1="1451.24" y1="420.83" x2="1451.24" y2="429.17" stroke-width="1.9"/>
<line x1="1448.44" y1="424.33" x2="1454.04" y2="424.33" stroke="#333" stroke-opacity="0.55" stroke-width="1.8"/>
<line x1="1449.04" y1="424.33" x2="1453.44" y2="424.33" stroke="#b01515" stroke-width="0.9"/>
<line x1="1459.62" y1="388" x2="1459.62" y2="426.67" stroke-width="1.9"/>
<rect x="1457.47" y="395.33" width="4.3" height="30.5" fill="#297d0b" stroke-width="1" stroke-opacity="0.85"/>
<line x1="1468" y1="385.33" x2="1468" y2="399.17" stroke-width="1.9"/>
<rect x="1465.85" y="387.5" width="4.3" height="8.33" fill="#297d0b" stroke-width="1" stroke-opacity="0.85"/>
<line x1="1476.37" y1="383.67" x2="1476.37" y2="403.67" stroke-width="1.9"/>
<line x1="1473.57" y1="387.5" x2="1479.17" y2="387.5" stroke="#333" stroke-opacity="0.55" stroke-width="1.8"/>
<line x1="1474.17" y1="387.5" x2="1478.57" y2="387.5" stroke="#222" stroke-width="0.9"/>
<line x1="1493.13" y1="386" x2="1493.13" y2="394.67" stroke-width="1.9"/>
<rect x="1490.98" y="386.33" width="4.3" height="7" fill="#297d0b" stroke-width="1" stroke-opacity="0.85"/>
<line x1="1501.51" y1="357" x2="1501.51" y2="387.5" stroke-width="1.9"/>
<rect x="1499.36" y="363.33" width="4.3" height="23.33" fill="#297d0b" stroke-width="1" stroke-opacity="0.85"/>
<line x1="1509.89" y1="348" x2="1509.89" y2="370.83" stroke-width="1.9"/>
<rect x="1507.74" y="350.83" width="4.3" height="12.5" fill="#297d0b" stroke-width="1" stroke-opacity="0.85"/>
<line x1="1518.26" y1="349.67" x2="1518.26" y2="363.33" stroke-width="1.9"/>
<rect x="1516.11" y="350.83" width="4.3" height="10.33" fill="#fb1a1a" stroke-width="1" stroke-opacity="0.85"/>
<line x1="1526.64" y1="350.83" x2="1526.64" y2="369.17" stroke-width="1.9"/>
<rect x="1524.49" y="351.33" width="4.3" height="9.83" fill="#297d0b" stroke-width="1" stroke-opacity="0.85"/>
<line x1="1535.02" y1="350.83" x2="1535.02" y2="378.67" stroke-width="1.9"/>
<line x1="1532.22" y1="352" x2="1537.82" y2="352" stroke="#333" stroke-opacity="0.55" stroke-width="1.8"/>
<line x1="1532.82" y1="352" x2="1537.22" y2="352" stroke="#b01515" stroke-width="0.9"/>
<line x1="1551.78" y1="351.33" x2="1551.78" y2="356.33" stroke-width="1.9"/>
<rect x="1549.63" y="351.67" width="4.3" height="3.33" fill="#297d0b" stroke-width="1" stroke-opacity="0.85"/>
<line x1="1560.15" y1="346.33" x2="1560.15" y2="353.67" stroke-width="1.9"/>
<rect x="1558" y="347" width="4.3" height="5.5" fill="#297d0b" stroke-width="1" stroke-opacity="0.85"/>
<line x1="1568.53" y1="345.83" x2="1568.53" y2="353.67" stroke-width="1.9"/>
<line x1="1565.73" y1="347.5" x2="1571.33" y2="347.5" stroke="#333" stroke-opacity="0.55" stroke-width="1.8"/>
<line x1="1566.33" y1="347.5" x2="1570.73" y2="347.5" stroke="#b01515" stroke-width="0.9"/>
<line x1="1576.91" y1="333.33" x2="1576.91" y2="349.17" stroke-width="1.9"/>
<rect x="1574.76" y="337" width="4.3" height="11.33" fill="#297d0b" stroke-width="1" stroke-opacity="0.85"/>
<line x1="1585.29" y1="323.67" x2="1585.29" y2="337.5" stroke-width="1.9"/>
<rect x="1583.14" y="328" width="4.3" height="9" fill="#297d0b" stroke-width="1" stroke-opacity="0.85"/>
<line x1="1593.67" y1="255.33" x2="1593.67" y2="343.67" stroke-width="1.9"/>
<rect x="1591.52" y="258" width="4.3" height="70" fill="#297d0b" stroke-width="1" stroke-opacity="0.85"/>
<line x1="1610.42" y1="256.17" x2="1610.42" y2="272" stroke-width="1.9"/>
<rect x="1608.27" y="260.83" width="4.3" height="7.83" fill="#297d0b" stroke-width="1" stroke-opacity="0.85"/>
<line x1="1618.8" y1="209.5" x2="1618.8" y2="354.67" stroke-width="1.9"/>
<rect x="1616.65" y="260.5" width="4.3" height="49.5" fill="#fb1a1a" stroke-width="1" stroke-opacity="0.85"/>
<line x1="1627.18" y1="270.5" x2="1627.18" y2="312.5" stroke-width="1.9"/>
<rect x="1625.03" y="273.33" width="4.3" height="37" fill="#297d0b" stroke-width="1" stroke-opacity="0.85"/>
<line x1="1635.56" y1="267" x2="1635.56" y2="393.33" stroke-width="1.9"/>
<rect x="1633.41" y="273.83" width="4.3" height="57.83" fill="#fb1a1a" stroke-width="1" stroke-opacity="0.85"/>
<line x1="1643.93" y1="310" x2="1643.93" y2="387.5" stroke-width="1.9"/>
<rect x="1641.78" y="332" width="4.3" height="51.33" fill="#fb1a1a" stroke-width="1" stroke-opacity="0.85"/>
</g>
<g stroke="#2c8408" stroke-width="2" fill="none">
<line x1="136.9" y1="164.2" x2="136.9" y2="726"/>
<line x1="124.1" y1="165.2" x2="136.9" y2="165.2"/>
<line x1="124.1" y1="216.1" x2="136.9" y2="216.1"/>
<line x1="124.1" y1="343.32" x2="136.9" y2="343.32"/>
<line x1="124.1" y1="470.55" x2="136.9" y2="470.55"/>
<line x1="124.1" y1="597.77" x2="136.9" y2="597.77"/>
<line x1="124.1" y1="725" x2="136.9" y2="725"/>
</g>
<text x="51.52" y="223.4" font-size="23.5" fill="#2c8408" font-weight="normal" textLength="65.88" lengthAdjust="spacingAndGlyphs">160.00</text>
<text x="51.52" y="350.62" font-size="23.5" fill="#2c8408" font-weight="normal" textLength="65.88" lengthAdjust="spacingAndGlyphs">155.00</text>
<text x="51.52" y="477.85" font-size="23.5" fill="#2c8408" font-weight="normal" textLength="65.88" lengthAdjust="spacingAndGlyphs">150.00</text>
<text x="51.52" y="605.07" font-size="23.5" fill="#2c8408" font-weight="normal" textLength="65.88" lengthAdjust="spacingAndGlyphs">145.00</text>
<text x="51.52" y="732.3" font-size="23.5" fill="#2c8408" font-weight="normal" textLength="65.88" lengthAdjust="spacingAndGlyphs">140.00</text>
<g stroke="#8e8e8e" stroke-width="2.1" fill="none">
<line x1="1653.7" y1="164.2" x2="1653.7" y2="726"/>
<line x1="1653.7" y1="725" x2="1664.7" y2="725"/>
<line x1="1653.7" y1="662.8" x2="1664.7" y2="662.8"/>
<line x1="1653.7" y1="600.6" x2="1664.7" y2="600.6"/>
<line x1="1653.7" y1="538.4" x2="1664.7" y2="538.4"/>
<line x1="1653.7" y1="476.2" x2="1664.7" y2="476.2"/>
<line x1="1653.7" y1="414" x2="1664.7" y2="414"/>
<line x1="1653.7" y1="351.8" x2="1664.7" y2="351.8"/>
<line x1="1653.7" y1="289.6" x2="1664.7" y2="289.6"/>
<line x1="1653.7" y1="227.4" x2="1664.7" y2="227.4"/>
<line x1="1653.7" y1="165.2" x2="1664.7" y2="165.2"/>
</g>
<text x="1671.05" y="732.3" font-size="23.5" fill="#2b3a4e" font-weight="normal" textLength="38.93" lengthAdjust="spacingAndGlyphs">10%</text>
<text x="1671.05" y="670.1" font-size="23.5" fill="#2b3a4e" font-weight="normal" textLength="38.93" lengthAdjust="spacingAndGlyphs">15%</text>
<text x="1671.51" y="607.9" font-size="23.5" fill="#2b3a4e" font-weight="normal" textLength="38.36" lengthAdjust="spacingAndGlyphs">20%</text>
<text x="1671.51" y="545.7" font-size="23.5" fill="#2b3a4e" font-weight="normal" textLength="38.36" lengthAdjust="spacingAndGlyphs">25%</text>
<text x="1671.13" y="483.5" font-size="23.5" fill="#2b3a4e" font-weight="normal" textLength="38.79" lengthAdjust="spacingAndGlyphs">30%</text>
<text x="1671.13" y="421.3" font-size="23.5" fill="#2b3a4e" font-weight="normal" textLength="38.79" lengthAdjust="spacingAndGlyphs">35%</text>
<text x="1671.97" y="359.1" font-size="23.5" fill="#2b3a4e" font-weight="normal" textLength="37.97" lengthAdjust="spacingAndGlyphs">40%</text>
<text x="1671.97" y="296.9" font-size="23.5" fill="#2b3a4e" font-weight="normal" textLength="37.97" lengthAdjust="spacingAndGlyphs">45%</text>
<text x="1671.13" y="234.7" font-size="23.5" fill="#2b3a4e" font-weight="normal" textLength="38.79" lengthAdjust="spacingAndGlyphs">50%</text>
<text x="1671.13" y="172.5" font-size="23.5" fill="#2b3a4e" font-weight="normal" textLength="38.79" lengthAdjust="spacingAndGlyphs">55%</text>
<text x="161.35" y="783.8" font-size="24" fill="#000" font-weight="bold" textLength="114.06" lengthAdjust="spacingAndGlyphs">Percentage</text>
<text x="281.51" y="783.8" font-size="24" fill="#000" font-weight="bold" textLength="19.91" lengthAdjust="spacingAndGlyphs">of</text>
<text x="308.08" y="783.8" font-size="24" fill="#000" font-weight="bold" textLength="76.99" lengthAdjust="spacingAndGlyphs">Traders</text>
<text x="471.26" y="783.8" font-size="24" fill="#000" font-weight="normal" textLength="31.33" lengthAdjust="spacingAndGlyphs">net</text>
<text x="509.54" y="783.8" font-size="24" fill="#000" font-weight="normal" textLength="43.48" lengthAdjust="spacingAndGlyphs">long</text>
<text x="701.26" y="783.8" font-size="24" fill="#000" font-weight="normal" textLength="31.33" lengthAdjust="spacingAndGlyphs">net</text>
<text x="739.45" y="783.8" font-size="24" fill="#000" font-weight="normal" textLength="49.44" lengthAdjust="spacingAndGlyphs">short</text>
<text x="901.43" y="783.8" font-size="24" fill="#000" font-weight="bold" textLength="75.98" lengthAdjust="spacingAndGlyphs">Number</text>
<text x="983.94" y="783.8" font-size="24" fill="#000" font-weight="bold" textLength="19.64" lengthAdjust="spacingAndGlyphs">of</text>
<text x="1010.32" y="783.8" font-size="24" fill="#000" font-weight="bold" textLength="76.87" lengthAdjust="spacingAndGlyphs">Traders</text>
<text x="1171.03" y="783.8" font-size="24" fill="#000" font-weight="normal" textLength="31.26" lengthAdjust="spacingAndGlyphs">net</text>
<text x="1209.76" y="783.8" font-size="24" fill="#000" font-weight="normal" textLength="42.9" lengthAdjust="spacingAndGlyphs">long</text>
<text x="1401.01" y="783.8" font-size="24" fill="#000" font-weight="normal" textLength="31.48" lengthAdjust="spacingAndGlyphs">net</text>
<text x="1439.82" y="783.8" font-size="24" fill="#000" font-weight="normal" textLength="49.14" lengthAdjust="spacingAndGlyphs">short</text>
<rect x="441.85" y="766.05" width="20.5" height="20.1" fill="#eaf4fc" stroke="#1b9de2" stroke-width="3.7"/>
<rect x="671.85" y="766.05" width="20.1" height="20.1" fill="#f4e4e6" stroke="#d0021b" stroke-width="3.7"/>
<line x1="1142" y1="775.9" x2="1162" y2="775.9" stroke="#1b9de2" stroke-width="3.8"/>
<line x1="1372" y1="775.9" x2="1392" y2="775.9" stroke="#d0021b" stroke-width="3.8"/>
<line x1="363.1" y1="807.1" x2="363.1" y2="976.9" stroke="#9a9a9a" stroke-opacity="0.8" stroke-width="1.6" stroke-dasharray="4.2 3.8"/>
<line x1="622.9" y1="807.1" x2="622.9" y2="976.9" stroke="#9a9a9a" stroke-opacity="0.8" stroke-width="1.6" stroke-dasharray="4.2 3.8"/>
<line x1="882.7" y1="807.1" x2="882.7" y2="976.9" stroke="#9a9a9a" stroke-opacity="0.8" stroke-width="1.6" stroke-dasharray="4.2 3.8"/>
<line x1="1125.73" y1="807.1" x2="1125.73" y2="976.9" stroke="#9a9a9a" stroke-opacity="0.8" stroke-width="1.6" stroke-dasharray="4.2 3.8"/>
<line x1="1385.53" y1="807.1" x2="1385.53" y2="976.9" stroke="#9a9a9a" stroke-opacity="0.8" stroke-width="1.6" stroke-dasharray="4.2 3.8"/>
<line x1="1636.95" y1="807.1" x2="1636.95" y2="976.9" stroke="#9a9a9a" stroke-opacity="0.8" stroke-width="1.6" stroke-dasharray="4.2 3.8"/>
<line x1="144.9" y1="960" x2="1645" y2="960" stroke="#b9b9b9" stroke-width="1.7" stroke-dasharray="4.2 3.8"/>
<line x1="144.9" y1="931.67" x2="1645" y2="931.67" stroke="#b9b9b9" stroke-width="1.7" stroke-dasharray="4.2 3.8"/>
<line x1="144.9" y1="903.34" x2="1645" y2="903.34" stroke="#b9b9b9" stroke-width="1.7" stroke-dasharray="4.2 3.8"/>
<line x1="144.9" y1="875.01" x2="1645" y2="875.01" stroke="#b9b9b9" stroke-width="1.7" stroke-dasharray="4.2 3.8"/>
<line x1="144.9" y1="846.68" x2="1645" y2="846.68" stroke="#b9b9b9" stroke-width="1.7" stroke-dasharray="4.2 3.8"/>
<line x1="144.9" y1="818.35" x2="1645" y2="818.35" stroke="#b9b9b9" stroke-width="1.7" stroke-dasharray="4.2 3.8"/>
<line x1="144.9" y1="807.1" x2="1645" y2="807.1" stroke="#8a8a8a" stroke-width="1.8" stroke-dasharray="4.2 3.8"/>
<line x1="145.3" y1="807.1" x2="145.3" y2="976.9" stroke="#8a8a8a" stroke-width="1.8" stroke-dasharray="4.2 3.8"/>
<line x1="144.9" y1="976.9" x2="1645" y2="976.9" stroke="#b9b9b9" stroke-width="1.7" stroke-dasharray="4.2 3.8"/>
<line x1="1645" y1="807.1" x2="1645" y2="976.9" stroke="#b9b9b9" stroke-width="1.7" stroke-dasharray="4.2 3.8"/>
<polyline fill="none" stroke="#1b9de2" stroke-width="3" stroke-linejoin="miter" points="144.9,959.17 152.65,957.5 161.03,953.33 169.41,956.67 177.78,956.17 186.16,960 194.54,965.33 202.92,965.33 211.3,965 219.67,966.67 228.05,960 236.43,961.17 244.81,959.67 253.19,958.33 261.56,958.33 269.94,956.33 278.32,949.5 286.7,951.17 295.08,955 303.45,952.5 311.83,957 320.21,957 328.59,956.67 336.97,956.67 345.34,950 353.72,951.17 362.1,952.83 370.48,951.67 378.86,951.67 387.23,951.67 395.61,949.5 403.99,948 412.37,947.5 420.75,943 429.12,950.5 437.5,950.67 445.88,949.17 454.26,950 462.64,950.5 471.01,943.33 479.39,934.67 487.77,940.83 496.15,941.17 504.53,938.33 512.9,939.5 521.28,944.17 529.66,943.33 538.04,939.67 546.42,943.33 554.79,943.33 563.17,943.33 571.55,942.5 579.93,939.17 588.31,940.83 596.68,940 605.06,942.17 613.44,942.17 621.82,942.17 630.2,939.17 638.57,937.17 646.95,946.67 655.33,947 663.71,953.33 672.09,953.33 680.46,951.67 688.84,949.17 697.22,943 705.6,942.67 713.98,947.5 722.35,949.17 730.73,949.17 739.11,945.83 747.49,940 755.87,948.83 764.24,948.83 772.62,945.5 781,951.33 789.38,951.33 797.76,950.33 806.13,950.5 814.51,950.67 822.89,947.5 831.27,948.67 839.65,952.17 848.02,952.17 856.4,951 864.78,949.67 873.16,950.67 881.54,947.5 889.91,946.33 898.29,960.33 906.67,960.33 915.05,957 923.43,947.5 931.8,948.83 940.18,947.33 948.56,949.5 956.94,954.17 965.32,954.17 973.69,953.83 982.07,947.17 990.45,953.33 998.83,951.67 1007.21,949.5 1015.58,951.67 1023.96,951.67 1032.34,951.17 1040.72,946.33 1049.1,946.33 1057.47,948.33 1065.85,946.67 1074.23,950.83 1082.61,950.83 1090.99,950.67 1099.36,949.5 1107.74,949.5 1116.12,951.67 1124.5,953.67 1132.88,956.67 1141.25,956.67 1149.63,955.33 1158.01,952.5 1166.39,953.67 1174.77,946.67 1183.14,943.83 1191.52,948.33 1199.9,948.33 1208.28,946.67 1216.66,939.67 1225.03,940 1233.41,940.5 1241.79,943.33 1250.17,954.67 1258.55,954.67 1266.92,953 1275.3,951.17 1283.68,956.17 1292.06,963.67 1300.44,959.17 1308.81,963.33 1317.19,963.33 1325.57,962.5 1333.95,956.33 1342.33,954.17 1350.7,956.33 1359.08,958.33 1367.46,959.17 1375.84,958.33 1384.22,958.33 1392.59,957.83 1400.97,955.83 1409.35,955.5 1417.73,958.67 1426.11,961.67 1434.48,961.83 1442.86,961.33 1451.24,959.67 1459.62,958.33 1468,956.83 1476.37,955.33 1484.75,961.33 1493.13,960 1501.51,956.17 1509.89,956.17 1518.26,957.83 1526.64,955.83 1535.02,955.83 1543.4,961.67 1551.78,960.67 1560.15,960.67 1568.53,958.83 1576.91,957.5 1585.29,955.83 1593.67,955.83 1602.04,962.67 1610.42,961.17 1618.8,951.67 1627.18,947.5 1635.56,954.17 1645,954.5"/>
<polyline fill="none" stroke="#d0021b" stroke-width="3" stroke-linejoin="miter" points="144.9,864.17 152.65,862.17 161.03,856.33 169.41,851.33 177.78,848 186.16,844.17 194.54,840 202.92,840 211.3,838.83 219.67,829.17 228.05,852 236.43,850.33 244.81,852.5 253.19,867.17 261.56,867.17 269.94,865.33 278.32,868 286.7,874.17 295.08,864.67 303.45,859.17 311.83,860.33 320.21,860.5 328.59,859.67 336.97,854.17 345.34,871.33 353.72,869.67 362.1,873 370.48,886.17 378.86,886.17 387.23,885 395.61,881.17 403.99,878.83 412.37,878.83 420.75,904.17 429.12,900 437.5,899.33 445.88,896.33 454.26,887 462.64,886.33 471.01,903 479.39,910.5 487.77,911.67 496.15,911.67 504.53,910.33 512.9,903.33 521.28,897 529.66,895.5 538.04,901.67 546.42,908 554.79,908 563.17,908 571.55,907 579.93,904.17 588.31,905 596.68,911.33 605.06,916.33 613.44,916.33 621.82,916.17 630.2,916 638.57,908.33 646.95,900.33 655.33,890.33 663.71,901.17 672.09,901.17 680.46,898.33 688.84,892.5 697.22,893.83 705.6,889.67 713.98,897.5 722.35,901.33 730.73,901.33 739.11,901.17 747.49,892.5 755.87,882.5 764.24,882 772.62,880.5 781,887 789.38,887.17 797.76,886.17 806.13,879.67 814.51,877.83 822.89,884.67 831.27,882.5 839.65,885.17 848.02,885.17 856.4,883.33 864.78,882.5 873.16,882.67 881.54,894.17 889.91,894.17 898.29,886.33 906.67,886.17 915.05,883.33 923.43,878.83 931.8,885.17 940.18,886.5 948.56,875.83 956.94,881 965.32,881 973.69,879.17 982.07,877.17 990.45,869.17 998.83,869.5 1007.21,877.17 1015.58,881.5 1023.96,881.5 1032.34,880 1040.72,876.17 1049.1,876.67 1057.47,874.17 1065.85,871.17 1074.23,875.83 1082.61,875.83 1090.99,873.83 1099.36,866.67 1107.74,868.83 1116.12,862 1124.5,872.83 1132.88,874.5 1141.25,874.5 1149.63,872 1158.01,861.33 1166.39,869.5 1174.77,874.17 1183.14,885.83 1191.52,894.67 1199.9,894.67 1208.28,890.33 1216.66,888 1225.03,888.33 1233.41,885 1241.79,881.33 1250.17,875.33 1258.55,875.33 1266.92,870.5 1275.3,855.33 1283.68,844.5 1292.06,837 1300.44,829.67 1308.81,835.83 1317.19,835.83 1325.57,833.33 1333.95,828.83 1342.33,827.5 1350.7,826.67 1359.08,824.67 1367.46,829.5 1375.84,829.17 1384.22,829.33 1392.59,820.33 1400.97,821 1409.35,821 1417.73,829.5 1426.11,831.83 1434.48,832 1442.86,830.5 1451.24,817 1459.62,820 1468,831.67 1476.37,827.5 1484.75,838 1493.13,836.17 1501.51,831.33 1509.89,831.17 1518.26,827 1526.64,824.33 1535.02,824.5 1543.4,830.5 1551.78,829.5 1560.15,829.5 1568.53,822 1576.91,822.33 1585.29,818.83 1593.67,818.83 1602.04,830.5 1610.42,826 1618.8,855 1627.18,848.17 1635.56,867 1645,867"/>
<g stroke="#8e8e8e" stroke-width="2.1" fill="none">
<line x1="1653.7" y1="806.1" x2="1653.7" y2="977.9"/>
<line x1="1653.7" y1="807.1" x2="1664.7" y2="807.1"/>
<line x1="1653.7" y1="976.9" x2="1664.7" y2="976.9"/>
<line x1="1653.7" y1="960" x2="1664.7" y2="960"/>
<line x1="1653.7" y1="931.67" x2="1664.7" y2="931.67"/>
<line x1="1653.7" y1="903.34" x2="1664.7" y2="903.34"/>
<line x1="1653.7" y1="875.01" x2="1664.7" y2="875.01"/>
<line x1="1653.7" y1="846.68" x2="1664.7" y2="846.68"/>
<line x1="1653.7" y1="818.35" x2="1664.7" y2="818.35"/>
</g>
<text x="1671.04" y="967.4" font-size="23.5" fill="#2b3a4e" font-weight="normal" textLength="35.36" lengthAdjust="spacingAndGlyphs">500</text>
<text x="1670.18" y="939.07" font-size="23.5" fill="#2b3a4e" font-weight="normal" textLength="48.43" lengthAdjust="spacingAndGlyphs">1000</text>
<text x="1670.18" y="910.74" font-size="23.5" fill="#2b3a4e" font-weight="normal" textLength="48.43" lengthAdjust="spacingAndGlyphs">1500</text>
<text x="1670.89" y="882.41" font-size="23.5" fill="#2b3a4e" font-weight="normal" textLength="47.72" lengthAdjust="spacingAndGlyphs">2000</text>
<text x="1670.89" y="854.08" font-size="23.5" fill="#2b3a4e" font-weight="normal" textLength="47.72" lengthAdjust="spacingAndGlyphs">2500</text>
<text x="1670.87" y="825.75" font-size="23.5" fill="#2b3a4e" font-weight="normal" textLength="47.56" lengthAdjust="spacingAndGlyphs">3000</text>
<defs><filter id="ws" x="-3%" y="-10%" width="108%" height="125%"><feDropShadow dx="1.6" dy="1.7" stdDeviation="0.95" flood-color="#3d4046" flood-opacity="0.66"/></filter><filter id="bs" x="-3%" y="-10%" width="108%" height="130%"><feDropShadow dx="1.3" dy="1.5" stdDeviation="0.7" flood-color="#4a5260" flood-opacity="0.75"/></filter></defs>
<g filter="url(#ws)"><g transform="translate(1566.6,1107.5) skewX(-14.4)" fill="#fff" fill-rule="evenodd">
<path d="M0,0.5 L9,0.5 L14.6,15.4 L3.4,15.4 Z"/>
<path d="M1,18 L8.6,18 L12.6,33.75 L4.4,33.75 Z"/>
<path d="M-0.2,54.2 L9.6,54.2 L17,36 L17,28 L11,33.75 Z"/>
<path d="M15.5,-0.5 L22.5,-0.5 L19.5,4 L12.5,4 Z"/>
<path d="M14.1,2.25 L52.2,2.25 L52.2,9.75 L14.1,9.75 Z"/>
<path d="M16,12.75 H52 V46 Q52,54.4 44,54.4 H16 Z M23.8,18.75 L41.2,18.75 L41.2,27.75 L23.8,27.75 Z M23.7,36 L41.3,36 L41.3,46.1 L23.7,46.1 Z"/>
<path d="M30,18.75 L35.5,18.75 L41,27.75 L35.5,27.75 Z"/>
<path d="M30,36 L35,36 L41.2,46.1 L35.7,46.1 Z"/>
<path d="M61.2,0.75 L109.7,0.75 L109.7,8.25 L61.2,8.25 Z"/>
<path d="M61.2,0.75 L69.8,0.75 L69.8,30 L61.2,30 Z"/>
<path d="M61.2,21.4 L109.7,21.4 L109.7,30 L61.2,30 Z"/>
<path d="M102.2,0.75 H109.7 V46 Q109.7,54.75 100.7,54.75 H89.3 V47 H98.7 Q102.2,47 102.2,43 Z"/>
<path d="M61,37.5 L100.6,37.5 L100.6,44.25 L61,44.25 Z"/>
<path d="M118,0 L145,0 L145,10 L118,10 Z"/>
<path d="M118,0 L125,0 L125,41 L118,41 Z"/>
<path d="M136.8,0 L145,0 L145,41 L136.8,41 Z"/>
<path d="M132.8,10 L135,10 L135,37 L132.8,37 Z"/>
<path d="M126,39 L133,39 L126.7,54 L119.7,54 Z"/>
<path d="M130,39 L137,39 L144.8,47 L144.2,53.8 L136,53.8 Z"/>
<path d="M146.3,6.6 L173,6.6 L173,14.1 L146.3,14.1 Z"/>
<path d="M162.7,0 H171.2 V45 Q171.2,53.2 162.7,53.2 H158 V46 H160.7 Q162.7,46 162.7,43 Z"/>
<path d="M154,14 L161.6,14 L155.5,48 L152.3,53.2 L145.3,53.2 L148,47 Z"/>
<path d="M189.5,0 L197.5,0 L188,16 L180,16 Z"/>
<path d="M180,16 L198,16 L198,24.3 L180,24.3 Z"/>
<path d="M196,12 L203.2,12 L190.6,33.3 L183,33.3 Z"/>
<path d="M181.1,33.3 L200.5,33.3 L200.5,40.9 L181.1,40.9 Z"/>
<path d="M181.5,46 L200.7,46 L200.7,53.8 L181.5,53.8 Z"/>
<path d="M203,0.75 L227,0.75 L227,8.25 L203,8.25 Z"/>
<path d="M224.5,0.75 L233.3,0.75 L213.3,27.8 L203.3,27.8 Z"/>
<path d="M218,14 L224,17 L229,21.7 L233,21.7 L233,27.8 L223.2,27.8 L217.4,23.4 Z"/>
<path d="M202.3,30.4 L232.7,30.4 L232.7,37.4 L202.3,37.4 Z"/>
<path d="M211.7,37.4 L221.5,37.4 L221.5,45.3 L211.7,45.3 Z"/>
<path d="M200.7,45.3 L232,45.3 L232,53.8 L200.7,53.8 Z"/>
</g></g>
<g filter="url(#bs)" fill="#79c4f0" font-size="33" font-weight="bold" font-style="italic">
<text x="1565.17" y="1194.3" textLength="19.38" lengthAdjust="spacingAndGlyphs">z</text>
<text x="1591.54" y="1194.3" textLength="19.72" lengthAdjust="spacingAndGlyphs">z</text>
<text x="1619.51" y="1194.3" textLength="15.53" lengthAdjust="spacingAndGlyphs">r</text>
<text x="1642.51" y="1194.3" textLength="14.83" lengthAdjust="spacingAndGlyphs">t</text>
<text x="1663.60" y="1194.3" textLength="20.35" lengthAdjust="spacingAndGlyphs">0</text>
<text x="1698.77" y="1194.3" textLength="16.02" lengthAdjust="spacingAndGlyphs">1</text>
<text x="1721.58" y="1194.3" textLength="15.29" lengthAdjust="spacingAndGlyphs">.</text>
<text x="1741.69" y="1194.3" textLength="18.81" lengthAdjust="spacingAndGlyphs">c</text>
<text x="1766.38" y="1194.3" textLength="23.50" lengthAdjust="spacingAndGlyphs">n</text>
</g>
<line x1="363.1" y1="976.9" x2="363.1" y2="987.8" stroke="#7f7f7f" stroke-width="2"/>
<text transform="translate(370.3,1117.4) rotate(-90)" font-size="23.5" fill="#2b3a4e" textLength="118.82" lengthAdjust="spacingAndGlyphs">2023-Dec-01</text>
<line x1="622.9" y1="976.9" x2="622.9" y2="987.8" stroke="#7f7f7f" stroke-width="2"/>
<text transform="translate(630.1,1116.43) rotate(-90)" font-size="23.5" fill="#2b3a4e" textLength="117.73" lengthAdjust="spacingAndGlyphs">2024-Jan-01</text>
<line x1="882.7" y1="976.9" x2="882.7" y2="987.8" stroke="#7f7f7f" stroke-width="2"/>
<text transform="translate(889.9,1117.6) rotate(-90)" font-size="23.5" fill="#2b3a4e" textLength="118.97" lengthAdjust="spacingAndGlyphs">2024-Feb-01</text>
<line x1="1125.73" y1="976.9" x2="1125.73" y2="987.8" stroke="#7f7f7f" stroke-width="2"/>
<text transform="translate(1132.93,1119.13) rotate(-90)" font-size="23.5" fill="#2b3a4e" textLength="120.88" lengthAdjust="spacingAndGlyphs">2024-Mar-01</text>
<line x1="1385.53" y1="976.9" x2="1385.53" y2="987.8" stroke="#7f7f7f" stroke-width="2"/>
<text transform="translate(1392.73,1115.33) rotate(-90)" font-size="23.5" fill="#2b3a4e" textLength="116.72" lengthAdjust="spacingAndGlyphs">2024-Apr-01</text>
<line x1="1636.95" y1="976.9" x2="1636.95" y2="987.8" stroke="#7f7f7f" stroke-width="2"/>
<text transform="translate(1644.15,1119.9) rotate(-90)" font-size="23.5" fill="#2b3a4e" textLength="121.47" lengthAdjust="spacingAndGlyphs">2024-May-01</text>
<text x="635.09" y="93" font-size="44.5" fill="#000" font-weight="bold" textLength="159.32" lengthAdjust="spacingAndGlyphs">USD/JPY</text>
<text x="805.48" y="93" font-size="44.5" fill="#000" font-weight="bold" textLength="111.18" lengthAdjust="spacingAndGlyphs">Client</text>
<text x="925.48" y="93" font-size="44.5" fill="#000" font-weight="bold" textLength="215.28" lengthAdjust="spacingAndGlyphs">Positioning</text>
<text x="751.76" y="155.3" font-size="32" fill="#000" font-weight="bold" textLength="30.11" lengthAdjust="spacingAndGlyphs">IG</text>
<text x="786.11" y="155.3" font-size="32" fill="#000" font-weight="bold" textLength="80.94" lengthAdjust="spacingAndGlyphs">Client</text>
<text x="874.75" y="155.3" font-size="32" fill="#000" font-weight="bold" textLength="145.77" lengthAdjust="spacingAndGlyphs">Sentiment</text>
<text x="1588.96" y="112.5" font-size="18.5" fill="#4a5568" font-weight="normal" textLength="78.22" lengthAdjust="spacingAndGlyphs">provided</text>
<text x="1671.88" y="112.5" font-size="18.5" fill="#4a5568" font-weight="normal" textLength="20.81" lengthAdjust="spacingAndGlyphs">by</text>
<g fill="none" stroke="#4a5568" stroke-width="6.25" stroke-linejoin="miter">
<path d="M1526.4,60.2 H1535 A10.6,11.25 0 0 1 1535,82.7 H1526.4 Z"/>
<path d="M1560.2,85.8 V68.95 A8.75,8.75 0 0 1 1577.7,68.95 V85.8"/>
<path d="M1560.2,75.6 H1577.7" stroke-width="5"/>
<path d="M1611.45,57.1 V82.7 H1626.7"/>
<path d="M1634.85,57.1 V69 A8.35,8.35 0 0 0 1651.55,69 V57.1"/>
<path d="M1643.2,77 V85.8"/>
</g>
<rect x="1591.25" y="57.1" width="6.65" height="28.7" fill="#4a5568"/>
<rect x="1593.3" y="51.25" width="2.5" height="40" fill="#4a5568"/>
<path fill="#ff7300" d="M1664.4,57.1 H1690 V65 H1672.7 V69.2 H1689.8 V76.5 H1672.7 V85.8 H1664.4 Z"/>
<path fill="#ff7300" d="M1696,57.1 H1706.7 L1728.2,85.8 H1717.5 Z"/>
<path fill="#ff7300" d="M1717.5,57.1 H1727.1 L1704.8,85.8 H1695 Z"/>
<rect x="1703.1" y="96.25" width="3.8" height="20.55" fill="#e0151e"/>
<path fill="none" stroke="#e0151e" stroke-width="3.75" d="M1726.3,100.3 A9.0,9.1 0 1 0 1726.85,112 V107.3 H1719.8"/>
</svg></body></html>
